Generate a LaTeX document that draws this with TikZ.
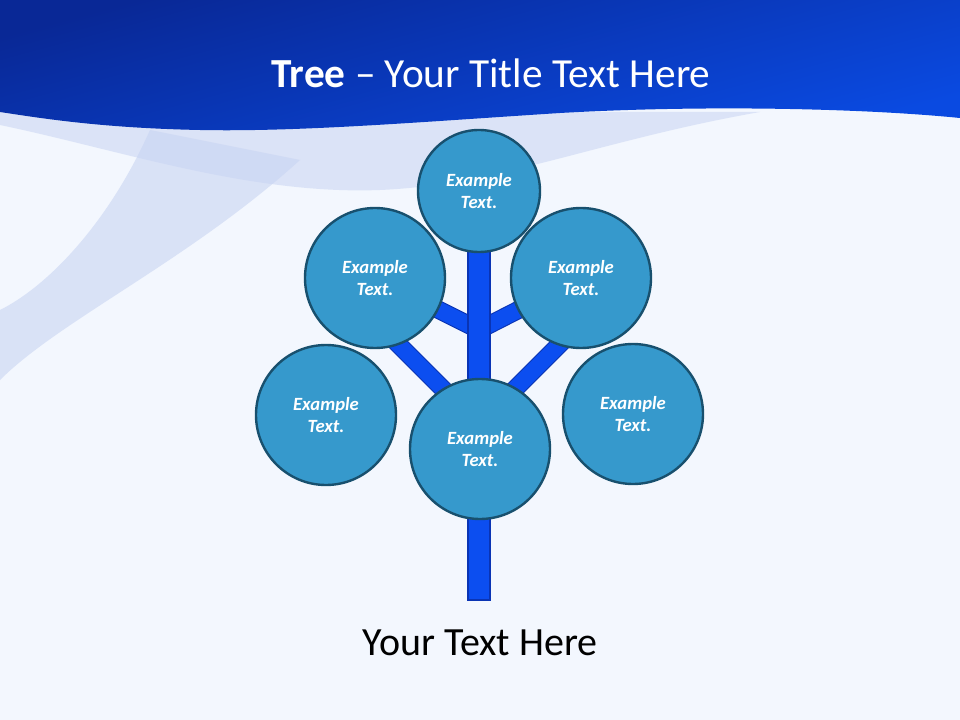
\documentclass[tikz,border=0pt]{standalone}
\usepackage{fontspec}
\setmainfont{Carlito}
\definecolor{bgcol}{RGB}{243,247,254}
\definecolor{hdark}{RGB}{9,40,150}
\definecolor{hlight}{RGB}{10,74,225}
\definecolor{swoosh}{RGB}{200,212,242}
\definecolor{leafcol}{RGB}{54,153,204}
\definecolor{leafline}{RGB}{24,80,110}
\definecolor{barcol}{RGB}{12,78,240}
\definecolor{barline}{RGB}{10,52,180}
\pgfdeclarelayer{back}
\pgfdeclarelayer{bars}
\pgfsetlayers{back,bars,main}
\begin{document}
\begin{tikzpicture}[x=0.75pt,y=-0.75pt,
  leaf/.style={circle,draw=leafline,line width=1.8pt,fill=leafcol,
    text=white,inner sep=0pt,align=center,font=\fontsize{14}{17}\selectfont\bfseries\itshape},
  branch/.style={draw=barline,line width=0.8pt,double=barcol,double distance=12pt}]
\useasboundingbox (0,0) rectangle (960,720);
\begin{pgfonlayer}{back}
\fill[bgcol] (0,0) rectangle (960,720);
% swooshes
\fill[swoosh,opacity=0.55] (0,112) -- (760,112) .. controls (600,140) and (500,185) .. (380,190)
  .. controls (250,195) and (120,150) .. (0,125) -- cycle;
\fill[swoosh,opacity=0.6] (150,130) .. controls (110,220) and (50,285) .. (0,310) -- (0,380)
  .. controls (60,320) and (190,260) .. (300,160) -- cycle;
% header
\shade[top color=hdark,bottom color=hlight,shading angle=15] (0,0) -- (960,0) -- (960,118)
  .. controls (860,108) and (700,105) .. (560,113) .. controls (420,122) and (300,132) .. (200,130)
  .. controls (100,128) and (40,118) .. (0,112) -- cycle;
\end{pgfonlayer}
\node[anchor=base,text=white,font=\fontsize{31}{37}\selectfont] (title) at (491,88)
  {\textbf{Tree} -- Your Title Text Here};
% forks
\coordinate (base) at (479,600);
\coordinate (highfork) at (479,330);
\coordinate (lowfork) at (479,425);
\coordinate (tipl) at (380,326);
\coordinate (tipr) at (578,326);
% leaves
\node[leaf,minimum size=91.5pt] (top) at (479,191) {Example\\Text.};
\node[leaf,minimum size=105pt] (ul) at (375,278) {Example\\Text.};
\node[leaf,minimum size=105pt] (ur) at (581,278) {Example\\Text.};
\node[leaf,minimum size=105pt] (ll) at (326,415) {Example\\Text.};
\node[leaf,minimum size=105pt] (lr) at (633,414) {Example\\Text.};
\node[leaf,minimum size=105pt] (mid) at (480,449) {Example\\Text.};
% branches and trunk behind the leaves
\begin{pgfonlayer}{bars}
\draw[branch] (highfork) -- (ul.center);
\draw[branch] (highfork) -- (ur.center);
\draw[branch] (lowfork) -- (tipl);
\draw[branch] (lowfork) -- (tipr);
\draw[draw=barline,line width=0.8pt,fill=barcol] ([xshift=-8.25pt]base) rectangle ([xshift=8.25pt]top.center);
\end{pgfonlayer}
\node[anchor=base,font=\fontsize{30}{36}\selectfont] (caption) at (480,655) {Your Text Here};
\end{tikzpicture}
\end{document}
